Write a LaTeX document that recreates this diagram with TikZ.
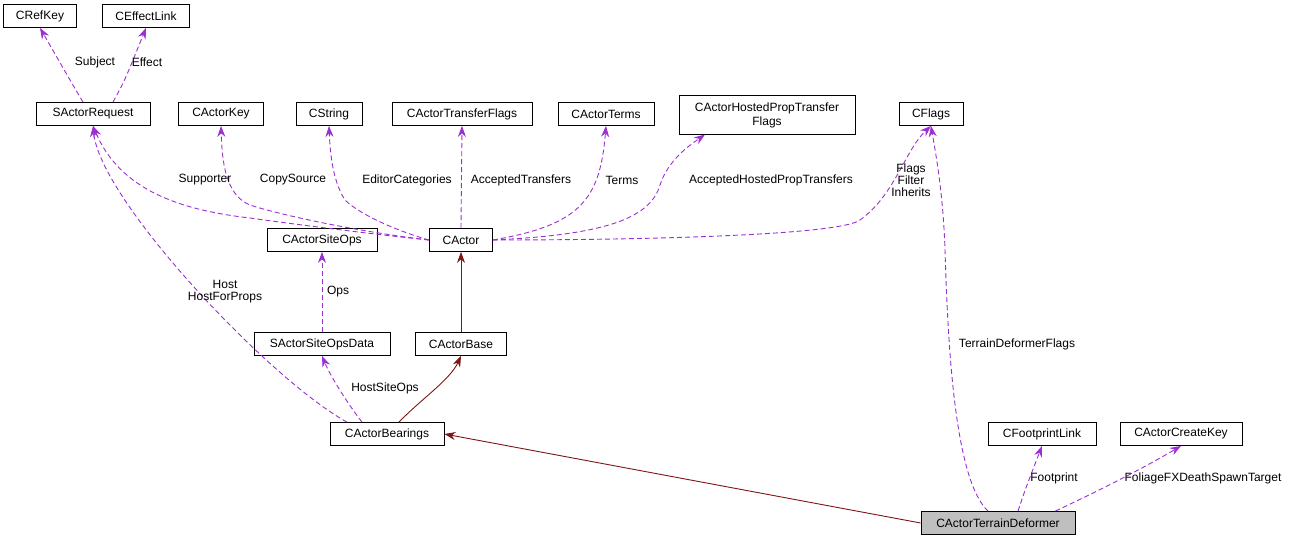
\documentclass[tikz,border=0pt]{standalone}
\usepackage{fontspec}
\setmainfont{Liberation Sans}
\usetikzlibrary{arrows.meta}
\begin{document}
\begin{tikzpicture}[x=1pt,y=-1pt,
  box/.style={draw,line width=0.8pt,fill=white,inner sep=0pt,minimum height=23pt,font=\fontsize{12}{14}\selectfont,align=center},
  lbl/.style={font=\fontsize{12}{14}\selectfont,align=center,inner sep=1pt},
  use/.style={draw={rgb,255:red,155;green,48;blue,210},dashed,dash pattern=on 5pt off 3pt,line width=0.9pt,
    -{Stealth[length=11pt,width=8pt,fill={rgb,255:red,155;green,48;blue,210}]}},
  inh/.style={draw={rgb,255:red,128;green,20;blue,20},line width=0.9pt,
    -{Stealth[length=11pt,width=8pt]}}]
\useasboundingbox (0,0) rectangle (1293,543);
\node[box,minimum width=73pt] (rk) at (40,16) {CRefKey};
\node[box,minimum width=87pt] (el) at (146,16) {CEffectLink};
\node[box,minimum width=114pt] (sar) at (93,114) {SActorRequest};
\node[box,minimum width=85pt] (ak) at (221,114) {CActorKey};
\node[box,minimum width=66pt] (cs) at (329,114) {CString};
\node[box,minimum width=140pt] (atf) at (462,114) {CActorTransferFlags};
\node[box,minimum width=96pt] (at) at (606,114) {CActorTerms};
\node[box,minimum width=176pt,minimum height=39pt] (ah) at (767,115) {CActorHostedPropTransfer\\Flags};
\node[box,minimum width=64pt] (cf) at (931,114) {CFlags};
\node[box,minimum width=110pt] (so) at (322,240) {CActorSiteOps};
\node[box,minimum width=63pt] (ca) at (461,240) {CActor};
\node[box,minimum width=136pt] (sod) at (322,344) {SActorSiteOpsData};
\node[box,minimum width=91pt] (ab) at (461,344) {CActorBase};
\node[box,minimum width=114pt] (abr) at (387,434) {CActorBearings};
\node[box,minimum width=108pt] (fl) at (1042,434) {CFootprintLink};
\node[box,minimum width=122pt] (ck) at (1181,434) {CActorCreateKey};
\node[box,minimum width=154pt,fill={rgb,255:red,191;green,191;blue,191}] (td) at (998,523) {CActorTerrainDeformer};

\draw[use] (sar.north) ++(-10,0) coordinate (s1) (s1) .. controls (70,80) .. (rk.south);
\draw[use] (sar.north) ++(20,0) coordinate (s2) (s2) .. controls (125,80) .. (el.south);
\node[lbl] (l1) at (95,62) {Subject};
\node[lbl] (l2) at (147,62) {Effect};

\draw[use] (ca.west) .. controls (380,235) and (300,225) .. (250,218) .. controls (180,210) and (120,190) .. (sar.south);
\draw[use] (ca.west) .. controls (360,232) and (280,215) .. (250,205) .. controls (225,195) and (222,160) .. (ak.south);
\draw[use] (ca.west) .. controls (400,232) and (360,215) .. (345,200) .. controls (332,180) and (330,150) .. (cs.south);
\draw[use] (ca.north) -- (atf.south);
\draw[use] (ca.east) .. controls (580,225) and (600,200) .. (at.south);
\draw[use] (ca.east) .. controls (600,235) and (650,220) .. (660,185) .. controls (668,160) and (690,145) .. (705,134.5);
\draw[use] (ca.east) .. controls (650,240) and (840,235) .. (860,220) .. controls (895,195) and (905,150) .. (cf.south);
\node[lbl] (l3) at (205,180) {Supporter};
\node[lbl] (l4) at (293,180) {CopySource};
\node[lbl] (l5) at (407,180) {EditorCategories};
\node[lbl] (l6) at (521,180) {AcceptedTransfers};
\node[lbl] (l7) at (622,180) {Terms};
\node[lbl] (l8) at (771,180) {AcceptedHostedPropTransfers};
\node[lbl] (l9) at (911,180) {Flags\\[-2pt]Filter\\[-2pt]Inherits};

\draw[use] (sod.north) -- (so.south);
\node[lbl] (l10) at (338,292) {Ops};
\draw[use] (abr.north) ++(-40,0) coordinate (b1) (b1) .. controls (270,380) and (100,200) .. (sar.south);
\node[lbl] (l11) at (225,292) {Host\\[-2pt]HostForProps};
\draw[use] (abr.north) ++(-25,0) coordinate (b2) (b2) .. controls (345,400) and (330,375) .. (sod.south);
\node[lbl] (l12) at (385,388) {HostSiteOps};

\draw[inh] (ab.north) -- (ca.south);
\draw[inh] (abr.north) ++(12,0) coordinate (b3) (b3) .. controls (420,400) and (450,380) .. (ab.south);
\draw[inh] (td.west) -- (abr.east);

\draw[use] (td.north) ++(-10,0) coordinate (t1) (t1) .. controls (955,480) and (948,350) .. (945,250) .. controls (943,190) and (935,150) .. (cf.south);
\node[lbl] (l13) at (1017,344) {TerrainDeformerFlags};
\draw[use] (td.north) ++(20,0) coordinate (t2) (t2) .. controls (1025,490) .. (fl.south);
\node[lbl] (l14) at (1054,478) {Footprint};
\draw[use] (td.north east) ++(-20,0) coordinate (t3) (t3) .. controls (1100,490) and (1140,470) .. (ck.south);
\node[lbl] (l15) at (1203,478) {FoliageFXDeathSpawnTarget};
\end{tikzpicture}
\end{document}
